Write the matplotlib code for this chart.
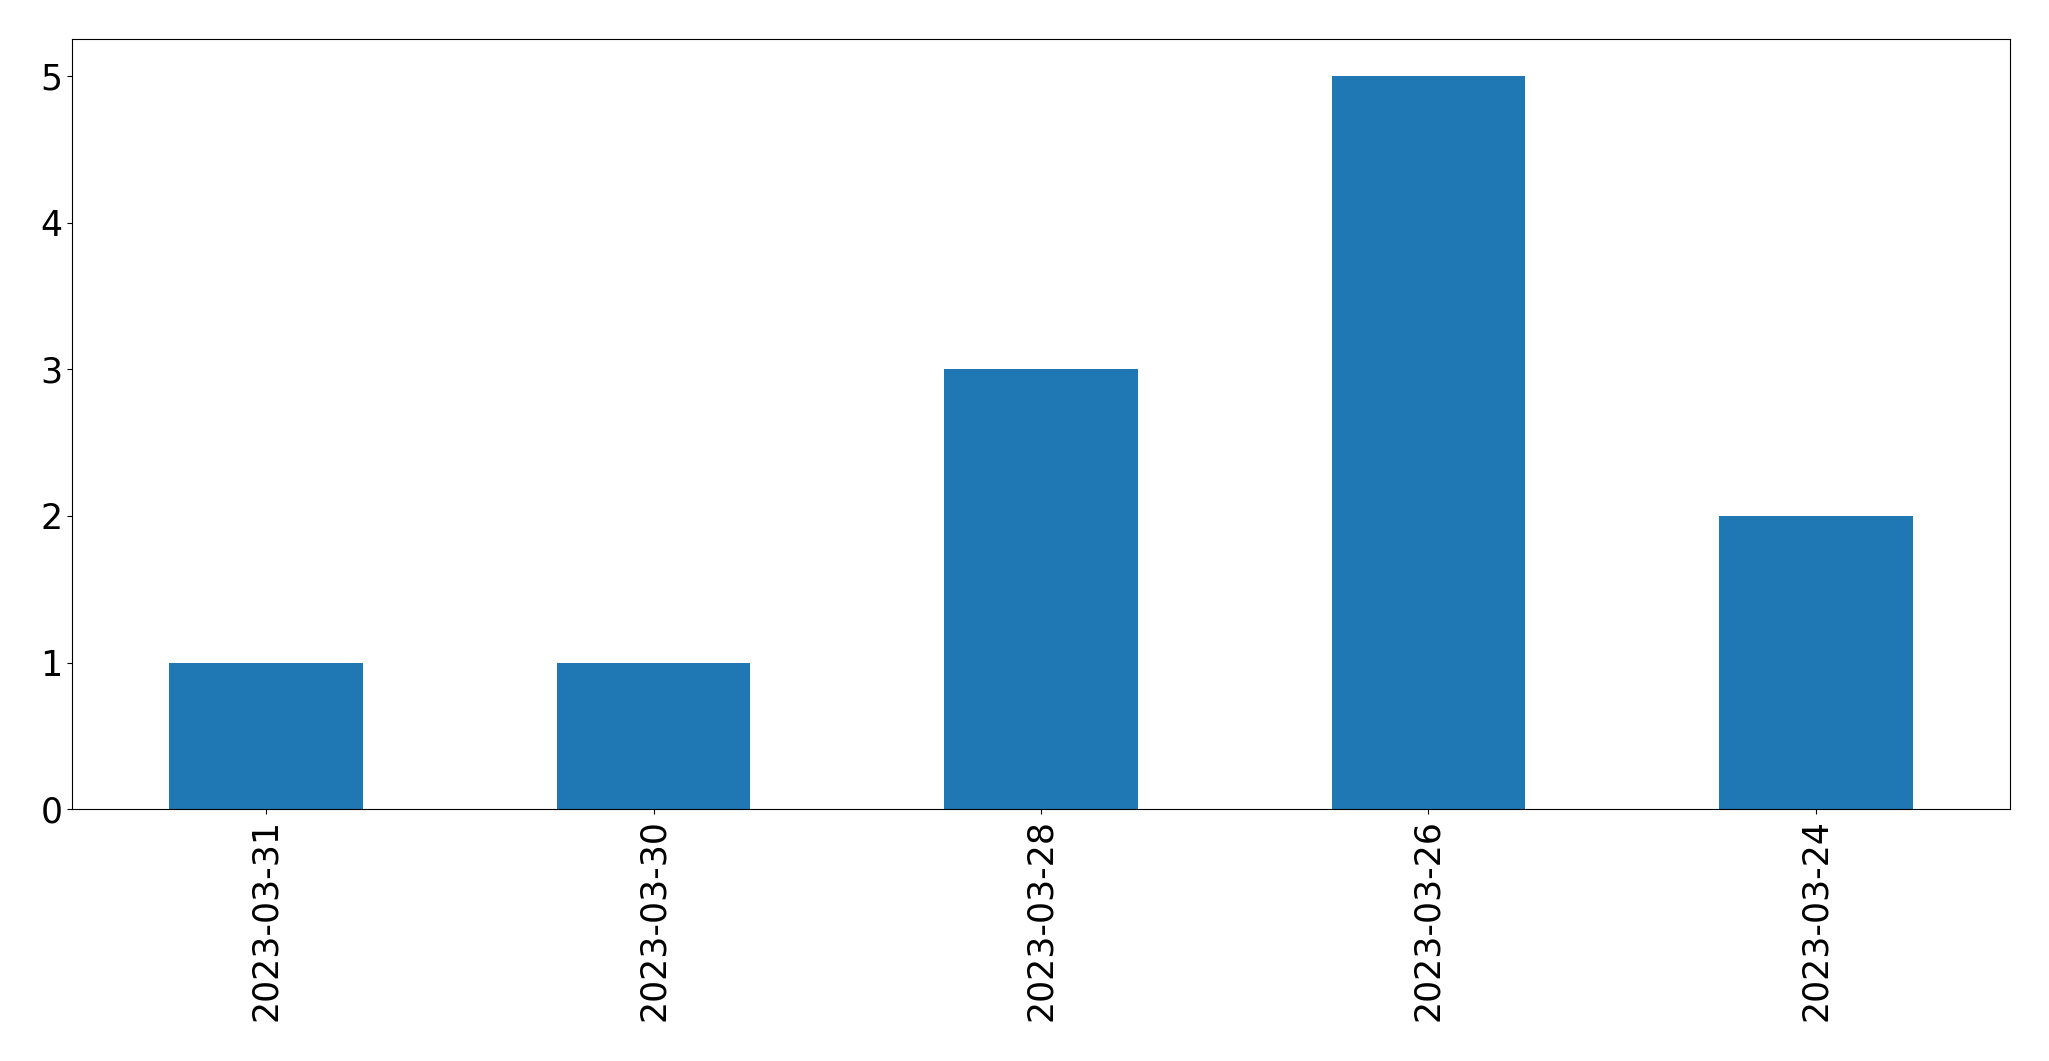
import matplotlib
matplotlib.use("Agg")
import matplotlib.pyplot as plt

dates = ["2023-03-31", "2023-03-30", "2023-03-28", "2023-03-26", "2023-03-24"]
counts = [1, 1, 3, 5, 2]

fig = plt.figure(figsize=(20.49, 10.61), dpi=100)
ax = fig.add_axes([72.3 / 2049, 1 - 809.3 / 1061, (2009.7 - 72.3) / 2049, (809.3 - 39.3) / 1061])
x = list(range(len(dates)))
ax.bar(x, counts, width=0.5, color="#1f77b4")
ax.set_xlim(-0.5, len(dates) - 0.5)
ax.set_ylim(0, 5.25)
ax.set_xticks(x)
ax.set_xticklabels(dates, rotation=90, fontsize=25)
ax.set_yticks([0, 1, 2, 3, 4, 5])
ax.tick_params(axis="y", labelsize=25)
fig.savefig("out.png", dpi=100)
